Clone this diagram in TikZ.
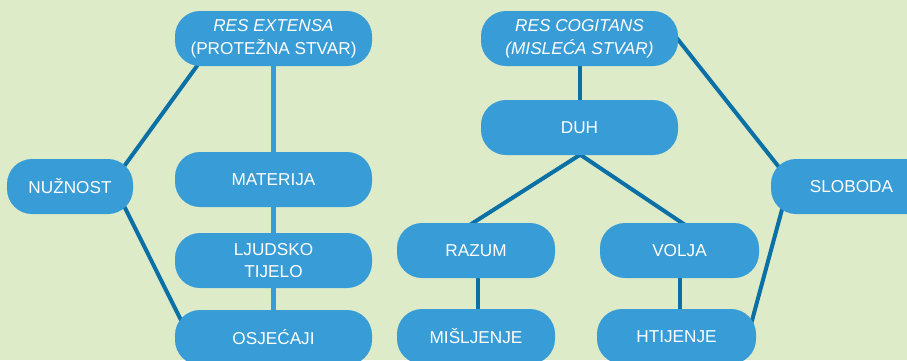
\documentclass[tikz,border=0pt]{standalone}
\usepackage{fontspec}
\setmainfont{Liberation Sans}
\usetikzlibrary{calc}
\definecolor{bgc}{RGB}{221,235,200}
\definecolor{boxc}{RGB}{56,156,214}
\definecolor{linec}{RGB}{10,112,165}
\pgfdeclarelayer{bglayer}
\pgfdeclarelayer{linelayer}
\pgfsetlayers{bglayer,linelayer,main}
\begin{document}
\begin{tikzpicture}[x=1pt,y=-1pt,
  box/.style={rectangle,rounded corners=25pt,fill=boxc,text=white,
    font=\fontsize{17.2}{22.7}\selectfont,align=center,inner sep=0pt,minimum height=55pt},
  dk/.style={draw=linec,line width=4pt},
  lt/.style={draw=boxc,line width=4.3pt}]
\useasboundingbox (0,0) rectangle (907,360);
\begin{pgfonlayer}{bglayer}
\fill[bgc] (0,0) rectangle (907,360);
\end{pgfonlayer}
\clip (0,0) rectangle (907,360);
% left group
\node[box,minimum width=197pt] (ext) at (273.5,38.5) {\textit{RES EXTENSA}\\(PROTEŽNA STVAR)};
\node[box,minimum width=197pt] (mat) at (273.5,179.5) {MATERIJA};
\node[box,minimum width=197pt] (lju) at (273.5,260.5) {LJUDSKO\\TIJELO};
\node[box,minimum width=197pt] (osj) at (273.5,337.5) {OSJEĆAJI};
\node[box,minimum width=126pt] (nuz) at (70,186.5) {NUŽNOST};
% right group
\node[box,minimum width=197pt] (cog) at (579.5,38.5) {\textit{RES COGITANS}\\\textit{(MISLEĆA STVAR)}};
\node[box,minimum width=197pt] (duh) at (579.5,127.5) {DUH};
\node[box,minimum width=158pt] (raz) at (476,250.5) {RAZUM};
\node[box,minimum width=158pt] (mis) at (476,336.5) {MIŠLJENJE};
\node[box,minimum width=159pt] (vol) at (679.5,250.5) {VOLJA};
\node[box,minimum width=159pt] (hti) at (676.5,336.5) {HTIJENJE};
\node[box,minimum width=161pt] (slo) at (851.5,186.5) {SLOBODA};
\begin{pgfonlayer}{linelayer}
\draw[lt] (ext) -- (mat) -- (lju) -- (osj);
\draw[dk] ($(nuz.north east)+(-15.3,16)$) -- ($(ext.south west)+(33.6,-16)$);
\draw[dk] ($(nuz.south east)+(-12,-14)$) -- ($(osj.north west)+(11,20)$);
\draw[dk] (cog) -- (duh);
\draw[dk] ($(duh.south)+(15.6,-10)$) -- ($(raz.north)+(-21.7,12)$);
\draw[dk] ($(duh.south)+(-13.4,-10)$) -- ($(vol.north)+(20.3,12)$);
\draw[dk] ($(raz)+(2,0)$) -- ($(mis)+(2,0)$);
\draw[dk] (vol) -- (vol |- hti);
\draw[dk] ($(cog.north east)+(-13,12.6)$) -- ($(slo.north west)+(19,22)$);
\draw[dk] ($(slo.south west)+(13.7,-14)$) -- ($(hti.north east)+(-6.7,21)$);
\end{pgfonlayer}
\end{tikzpicture}
\end{document}
